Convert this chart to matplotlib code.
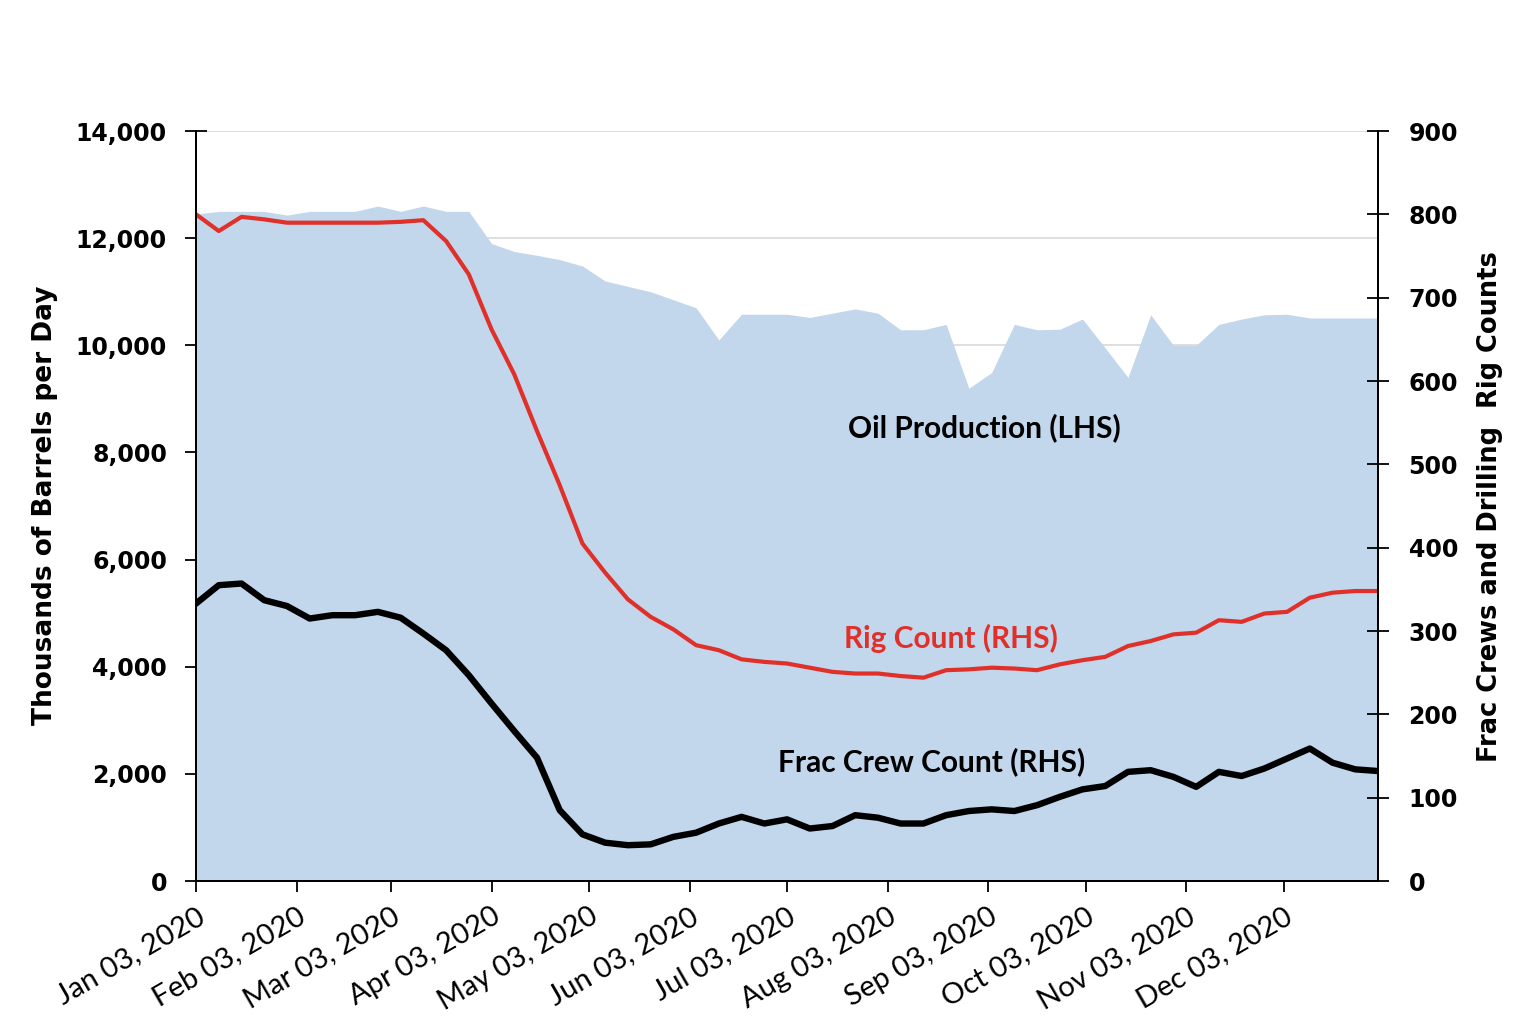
import matplotlib
matplotlib.use('Agg')
import matplotlib.pyplot as plt
import matplotlib.dates as mdates
import numpy as np
import pandas as pd

# weekly observations, Jan 03 2020 - Jan 01 2021
weeks = pd.date_range('2020-01-03', periods=53, freq='7D')

# thousands of barrels per day (LHS)
oil_production = [12450, 12500, 12500, 12500, 12430, 12500, 12500, 12500, 12600, 12500,
                  12600, 12500, 12500, 11900, 11750, 11680, 11600, 11480, 11200, 11100,
                  11000, 10850, 10700, 10100, 10580, 10580, 10580, 10520, 10600, 10680,
                  10600, 10290, 10290, 10390, 9200, 9490, 10390, 10290, 10300, 10490,
                  9950, 9400, 10570, 10000, 10000, 10390, 10490, 10570, 10580, 10510,
                  10510, 10510, 10510]

# drilling rig count (RHS)
rig_count = [800, 780, 797, 794, 790, 790, 790, 790, 790, 791,
             793, 768, 728, 662, 608, 540, 475, 405, 370, 338,
             317, 302, 283, 277, 266, 263, 261, 256, 251, 249,
             249, 246, 244, 253, 254, 256, 255, 253, 260, 265,
             269, 282, 288, 296, 298, 313, 311, 321, 323, 340,
             346, 348, 348]

# frac crew count (RHS)
frac_crews = [333, 355, 357, 337, 330, 315, 319, 319, 323, 316,
              297, 277, 247, 213, 180, 148, 85, 56, 46, 43,
              44, 53, 58, 69, 77, 69, 74, 63, 66, 79,
              76, 69, 69, 79, 84, 86, 84, 91, 101, 110,
              114, 131, 133, 125, 113, 131, 126, 135, 147, 159,
              142, 134, 132]

tick_dates = pd.date_range('2020-01-01', periods=12, freq='MS') + pd.Timedelta(days=2)
left_ticks = np.arange(0, 14001, 2000)
right_ticks = np.arange(0, 901, 100)

fill_color = '#c2d6ec'
red = '#e0302a'

fig = plt.figure(figsize=(15.34, 10.26), dpi=100)
ax = fig.add_axes([0.1278, 0.1413, 0.7705, 0.731])
ax2 = ax.twinx()

ax.fill_between(weeks, 0, oil_production, color=fill_color, linewidth=0, zorder=1)
ax2.plot(weeks, rig_count, color=red, linewidth=3.0, solid_joinstyle='round')
ax2.plot(weeks, frac_crews, color='black', linewidth=4.6, solid_joinstyle='round')

ax.set_xlim(weeks[0], weeks[-1])
ax.set_ylim(0, 14000)
ax2.set_ylim(0, 900)
ax.set_yticks(left_ticks)
ax2.set_yticks(right_ticks)
ax.yaxis.set_major_formatter(matplotlib.ticker.FuncFormatter(lambda v, p: '{:,.0f}'.format(v)))

ax.set_axisbelow(True)
ax.grid(axis='y', color='#d9d9d9', linewidth=1.2)
ax.grid(axis='x', visible=False)

for a in (ax, ax2):
    a.spines['top'].set_visible(False)
    for s in ('left', 'right', 'bottom'):
        a.spines[s].set_linewidth(1.4)
        a.spines[s].set_color('black')

ax.tick_params(axis='y', direction='inout', length=16, width=1.3, pad=13,
               labelsize=17)
ax2.tick_params(axis='y', direction='inout', length=16, width=1.3, pad=14,
                labelsize=17)
for lab in ax.get_yticklabels() + ax2.get_yticklabels():
    lab.set_fontweight('bold')

ax.set_xticks(tick_dates)
ax.xaxis.set_major_formatter(mdates.DateFormatter('%b %d, %Y'))
ax.tick_params(axis='x', direction='inout', length=16, width=1.3, pad=8)
for lab in ax.get_xticklabels():
    lab.set_rotation(30)
    lab.set_ha('right')
    lab.set_rotation_mode('anchor')
    lab.set_fontsize(21)
    lab.set_family('Lato')

fig.text(0.0293, 0.5078, 'Thousands of Barrels per Day', rotation=90,
         ha='center', va='center', fontsize=19, fontweight='bold')
fig.text(0.9713, 0.506, 'Frac Crews and Drilling  Rig Counts', rotation=90,
         ha='center', va='center', fontsize=18.5, fontweight='bold')

ax2.text(0.667, 0.604, 'Oil Production (LHS)', transform=ax2.transAxes,
         ha='center', va='center', fontsize=21.5, fontweight='bold', family='Lato')
ax2.text(0.639, 0.324, 'Rig Count (RHS)', transform=ax2.transAxes, color=red,
         ha='center', va='center', fontsize=21.5, fontweight='bold', family='Lato')
ax2.text(0.622, 0.159, 'Frac Crew Count (RHS)', transform=ax2.transAxes,
         ha='center', va='center', fontsize=21.5, fontweight='bold', family='Lato')

plt.savefig('out.png', dpi=100)
